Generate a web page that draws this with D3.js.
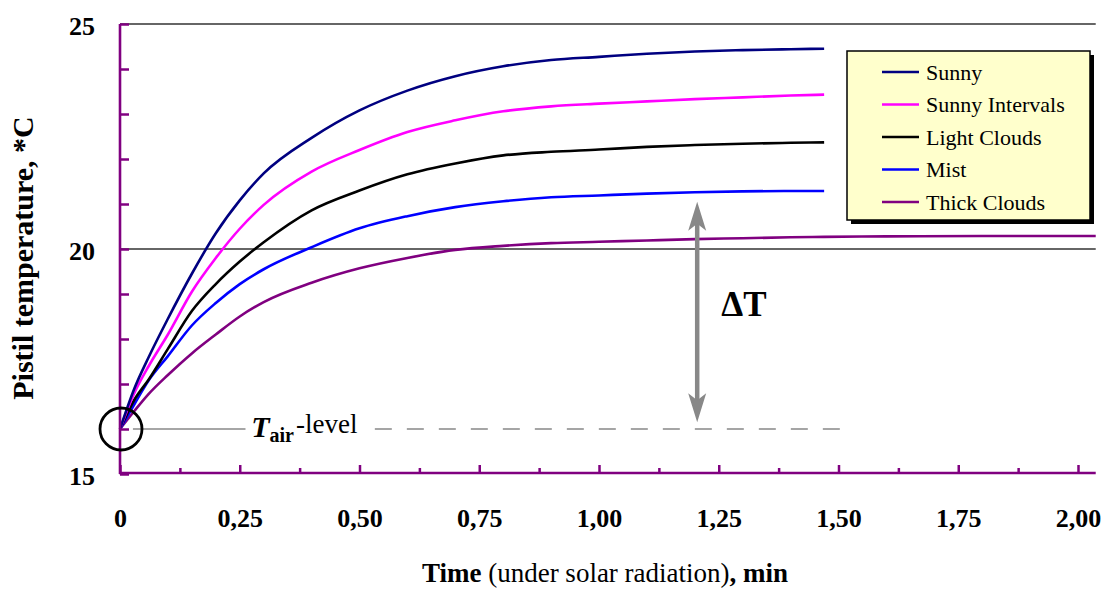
<!DOCTYPE html>
<html>
<head>
<meta charset="utf-8">
<script src="https://cdn.jsdelivr.net/npm/d3@7"></script>
<style>
  body { margin: 0; background: #fff; }
  svg { display: block; font-family: "Liberation Serif", "Times New Roman", serif; }
</style>
</head>
<body>
<div id="chart"></div>
<script>
// time grid, min
const time = [0, 0.03, 0.06, 0.1, 0.15, 0.2, 0.25, 0.3, 0.4, 0.5, 0.6, 0.7, 0.8, 0.9, 1.0, 1.1, 1.2, 1.3, 1.4, 1.47];
const thickTime = [0, 0.03, 0.06, 0.1, 0.15, 0.2, 0.25, 0.3, 0.4, 0.5, 0.6, 0.7, 0.8, 0.9, 1.0, 1.1, 1.2, 1.3, 1.4, 1.47, 1.6, 1.8, 2.037];

const sunny = [16.0, 16.9, 17.6, 18.45, 19.45, 20.35, 21.08, 21.68, 22.47, 23.08, 23.52, 23.84, 24.06, 24.2, 24.27, 24.34, 24.39, 24.42, 24.44, 24.45];
const sunnyIntervals = [16.0, 16.8, 17.4, 18.1, 19.05, 19.8, 20.45, 20.98, 21.72, 22.2, 22.6, 22.86, 23.06, 23.17, 23.23, 23.28, 23.33, 23.37, 23.41, 23.43];
const lightClouds = [16.0, 16.65, 17.1, 17.78, 18.62, 19.22, 19.72, 20.15, 20.86, 21.3, 21.66, 21.9, 22.08, 22.16, 22.21, 22.27, 22.31, 22.34, 22.36, 22.37];
const mist = [16.0, 16.55, 17.08, 17.62, 18.3, 18.8, 19.22, 19.55, 20.04, 20.46, 20.73, 20.93, 21.06, 21.15, 21.19, 21.23, 21.26, 21.28, 21.29, 21.29];
const thickClouds = [16.0, 16.4, 16.78, 17.2, 17.68, 18.1, 18.5, 18.82, 19.25, 19.57, 19.8, 19.98, 20.07, 20.13, 20.16, 20.19, 20.22, 20.24, 20.26, 20.27, 20.28, 20.29, 20.29];

const seriesNames = ["Sunny", "Sunny Intervals", "Light Clouds", "Mist", "Thick Clouds"];
const seriesColors = ["#000080", "#ff00ff", "#000000", "#0000ff", "#800080"];

const xTicks = [0, 0.25, 0.5, 0.75, 1.0, 1.25, 1.5, 1.75, 2.0];
const xMinorTicks = [0.125, 0.375, 0.625, 0.875, 1.125, 1.375, 1.625, 1.875];
const yTicks = [15, 20, 25];
const yMinorTicks = [16, 17, 18, 19, 21, 22, 23, 24];
const gridValues = [20, 25];

const tAir = 16;
const deltaAt = 1.205, deltaFrom = 16.15, deltaTo = 21.05;
const xEnd = 2.037;

const width = 1108, height = 590;
const purple = "#800080";

const svg = d3.select("#chart").append("svg")
    .attr("width", width)
    .attr("height", height);

const x = d3.scaleLinear().domain([0, 2]).range([120, 1078]);
const y = d3.scaleLinear().domain([15, 25]).range([474, 24]);

// grid lines
svg.selectAll(".grid")
    .data(gridValues)
    .enter()
    .append("line")
    .attr("x1", x(0)).attr("x2", x(xEnd))
    .attr("y1", d => y(d)).attr("y2", d => y(d))
    .attr("stroke", "#333").attr("stroke-width", 1.3);

// tair reference line
svg.append("line")
    .attr("x1", x(0.027)).attr("x2", x(0.262))
    .attr("y1", y(tAir)).attr("y2", y(tAir))
    .attr("stroke", "#888").attr("stroke-width", 1.5);
svg.append("line")
    .attr("x1", x(0.532)).attr("x2", x(1.514))
    .attr("y1", y(tAir)).attr("y2", y(tAir))
    .attr("stroke", "#888").attr("stroke-width", 1.5)
    .attr("stroke-dasharray", "17,15");

const tairText = svg.append("text")
    .attr("x", x(0.274)).attr("y", y(tAir) + 8)
    .attr("fill", "#000");
tairText.append("tspan").text("T").attr("font-size", 30).attr("font-weight", "bold").attr("font-style", "italic");
tairText.append("tspan").text("air").attr("font-size", 20).attr("font-weight", "bold").attr("dy", 5);
tairText.append("tspan").text("-level").attr("font-size", 27).attr("dx", 2).attr("dy", -9);

// series lines
const line = d3.line()
    .x(d => x(d[0]))
    .y(d => y(d[1]))
    .curve(d3.curveMonotoneX);

const seriesValues = [sunny, sunnyIntervals, lightClouds, mist, thickClouds];
const seriesData = seriesValues.map((vals, i) => {
    const ts = vals.length === time.length ? time : thickTime;
    return { name: seriesNames[i], color: seriesColors[i], points: vals.map((v, j) => [ts[j], v]) };
});

svg.selectAll(".series")
    .data(seriesData.slice().reverse())
    .enter()
    .append("path")
    .attr("class", "series")
    .attr("fill", "none")
    .attr("stroke", d => d.color)
    .attr("stroke-width", 2.6)
    .attr("d", d => line(d.points));

// axes
const xAxisY = y(15) - 1;
const xAxis = svg.append("g")
    .attr("transform", `translate(0,${xAxisY})`)
    .call(d3.axisBottom(x).tickValues(xTicks).tickSizeInner(-8).tickSizeOuter(0).tickPadding(36)
        .tickFormat(d => d === 0 ? "0" : d3.format(".2f")(d).replace(".", ",")));
xAxis.select(".domain").remove();
xAxis.selectAll(".tick line").attr("stroke", purple).attr("stroke-width", 2.5);
xAxis.selectAll("text").attr("font-size", 26).attr("font-weight", "bold").attr("fill", "#000")
    .attr("font-family", "Liberation Serif, Times New Roman, serif");

const xMinor = svg.append("g")
    .attr("transform", `translate(0,${xAxisY})`)
    .call(d3.axisBottom(x).tickValues(xMinorTicks).tickSizeInner(-5).tickSizeOuter(0).tickFormat(""));
xMinor.select(".domain").remove();
xMinor.selectAll(".tick line").attr("stroke", purple).attr("stroke-width", 2.5);

const yAxis = svg.append("g")
    .attr("transform", `translate(${x(0)},0)`)
    .call(d3.axisLeft(y).tickValues(yTicks).tickSizeInner(-9).tickSizeOuter(0).tickPadding(25).tickFormat(d3.format("d")));
yAxis.select(".domain").remove();
yAxis.selectAll(".tick line").attr("stroke", purple).attr("stroke-width", 2.5);
yAxis.selectAll("text").attr("font-size", 26).attr("font-weight", "bold").attr("fill", "#000")
    .attr("font-family", "Liberation Serif, Times New Roman, serif").attr("dy", "0.4em");

const yMinor = svg.append("g")
    .attr("transform", `translate(${x(0)},0)`)
    .call(d3.axisLeft(y).tickValues(yMinorTicks).tickSizeInner(-9).tickSizeOuter(0).tickFormat(""));
yMinor.select(".domain").remove();
yMinor.selectAll(".tick line").attr("stroke", purple).attr("stroke-width", 2.5);

svg.append("line")
    .attr("x1", x(0)).attr("x2", x(0))
    .attr("y1", y(25)).attr("y2", xAxisY + 1)
    .attr("stroke", purple).attr("stroke-width", 2.6);
svg.append("line")
    .attr("x1", x(0) - 1).attr("x2", x(xEnd))
    .attr("y1", xAxisY).attr("y2", xAxisY)
    .attr("stroke", purple).attr("stroke-width", 2.6);

// origin circle
svg.append("circle")
    .attr("cx", x(0) + 1).attr("cy", y(tAir))
    .attr("r", 21)
    .attr("fill", "none").attr("stroke", "#000").attr("stroke-width", 2.8);

// delta T arrow
const ax = x(deltaAt), aTop = y(deltaTo), aBot = y(deltaFrom);
svg.append("line")
    .attr("x1", ax).attr("x2", ax)
    .attr("y1", aTop + 10).attr("y2", aBot - 10)
    .attr("stroke", "#888").attr("stroke-width", 4.5);
svg.append("path")
    .attr("d", `M${ax},${aTop} L${ax - 9},${aTop + 29} L${ax},${aTop + 22} L${ax + 9},${aTop + 29} Z`)
    .attr("fill", "#888");
svg.append("path")
    .attr("d", `M${ax},${aBot} L${ax - 9},${aBot - 29} L${ax},${aBot - 22} L${ax + 9},${aBot - 29} Z`)
    .attr("fill", "#888");
svg.append("text")
    .attr("x", ax + 24).attr("y", y(18.65) + 6)
    .attr("font-size", 35).attr("font-weight", "bold").attr("fill", "#000")
    .text("ΔT");

// axis titles
svg.append("text")
    .attr("transform", `translate(33,${y(19.8)}) rotate(-90)`)
    .attr("text-anchor", "middle")
    .attr("font-size", 30).attr("font-weight", "bold")
    .text("Pistil temperature, *C");

const xt = svg.append("text")
    .attr("x", 605).attr("y", 582)
    .attr("text-anchor", "middle")
    .attr("font-size", 27);
xt.append("tspan").text("Time").attr("font-weight", "bold");
xt.append("tspan").text(" (under solar radiation)");
xt.append("tspan").text(", min").attr("font-weight", "bold");

// legend
const legend = svg.append("g").attr("transform", "translate(847,51)");
legend.append("rect")
    .attr("x", 4).attr("y", 4).attr("width", 243).attr("height", 169)
    .attr("fill", "#000");
legend.append("rect")
    .attr("width", 243).attr("height", 169)
    .attr("fill", "#ffffcc").attr("stroke", "#000").attr("stroke-width", 1.5);

const items = legend.selectAll(".item")
    .data(seriesData)
    .enter()
    .append("g")
    .attr("transform", (d, i) => `translate(0,${21 + i * 32.5})`);
items.append("line")
    .attr("x1", 35).attr("x2", 72)
    .attr("stroke", d => d.color).attr("stroke-width", 2.6);
items.append("text")
    .attr("x", 79).attr("dy", "0.35em")
    .attr("font-size", 22)
    .text(d => d.name);
</script>
</body>
</html>
